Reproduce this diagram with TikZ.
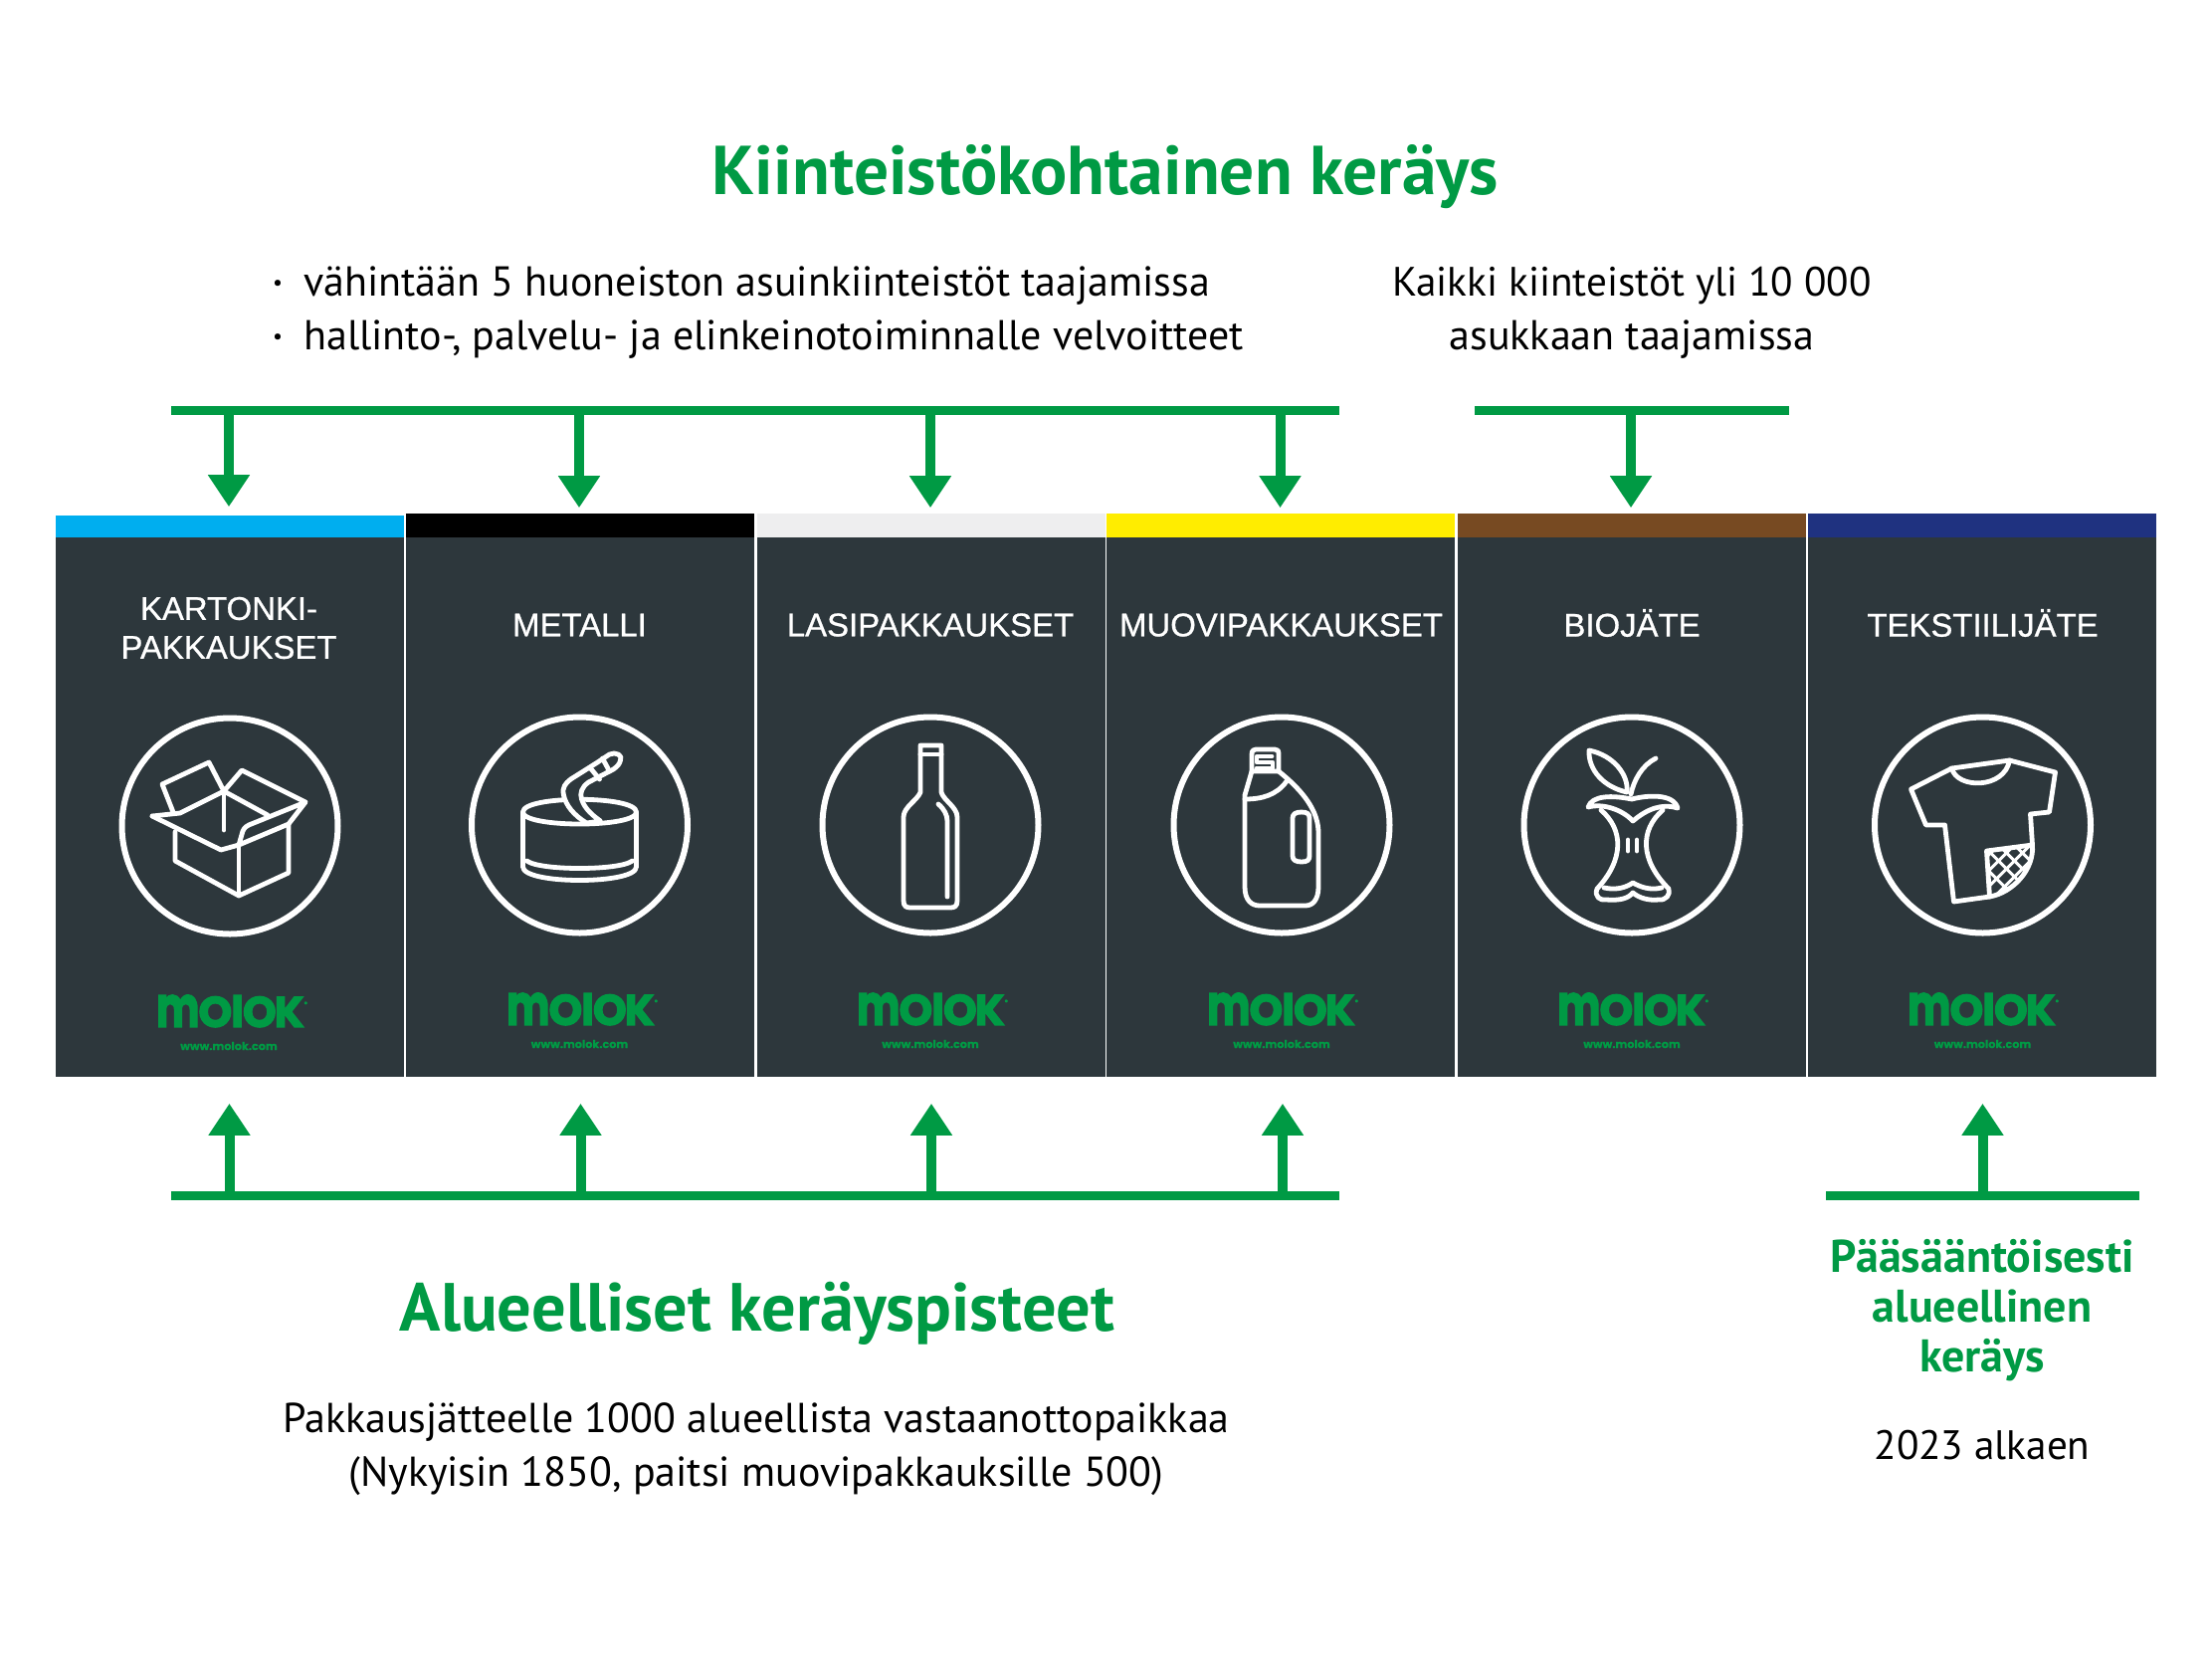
\documentclass[tikz,border=0pt]{standalone}
\usepackage{fontspec}
\setmainfont{PT Sans}
\newfontfamily\paneelifont[FakeBold=0.7]{Liberation Sans}
\newfontfamily\logofont[FakeBold=3]{Poppins}
\newfontfamily\osoitefont[FakeBold=0.6]{Poppins}
\usetikzlibrary{arrows.meta}
\definecolor{vihrea}{RGB}{0,154,68}
\definecolor{paneeli}{RGB}{45,55,60}
\definecolor{sininen}{RGB}{0,174,239}
\definecolor{vaalea}{RGB}{238,238,239}
\definecolor{keltainen}{RGB}{255,237,0}
\definecolor{ruskea}{RGB}{119,74,34}
\definecolor{tummansininen}{RGB}{31,50,128}
\newcommand{\molokmerkki}{\scalebox{0.95}[1.32]{m}\kern-0.5pt O\kern-0.5pt l\kern-0.5pt O\kern-1pt K\raisebox{10.5pt}{\fontsize{3}{3}\selectfont ®}}
\tikzset{
  paneelibox/.style={fill=paneeli,minimum width=175pt,minimum height=271pt,inner sep=0pt,anchor=north},
  raita/.style={minimum width=175pt,minimum height=12pt,inner sep=0pt,anchor=south},
  otsake/.style={text=white,font=\paneelifont\fontsize{16.45}{19.5}\selectfont,align=center},
  kehys/.style={draw=white,line width=3pt,circle,minimum size=108.5pt,inner sep=0pt},
  ikoni/.style={draw=white,line width=2.4pt,line join=round,line cap=round},
  logo/.style={text=vihrea,font=\logofont\bfseries\fontsize{21.5}{21.5}\selectfont,inner sep=0pt},
  osoite/.style={text=vihrea,font=\osoitefont\bfseries\fontsize{5.6}{5.6}\selectfont,inner sep=0pt},
  palkki/.style={draw=vihrea,line width=4.5pt},
  nuoli/.style={draw=vihrea,line width=5pt,-{Triangle[width=20pt,length=16pt]}},
  otsikko/.style={text=vihrea,font=\bfseries\fontsize{34.7}{40}\selectfont,inner sep=0pt},
  leipa/.style={font=\fontsize{21}{27}\selectfont,inner sep=0pt},
}
\begin{document}
\begin{tikzpicture}[x=0.5pt,y=-0.5pt]
\useasboundingbox (0,0) rectangle (2223,1667);
\fill[white] (0,0) rectangle (2223,1667);
% otsikot
\node[otsikko] (ylaotsikko) at (1111,178) {Kiinteistökohtainen keräys};
\node[leipa,anchor=west] (ehto1) at (305,287) {vähintään 5 huoneiston asuinkiinteistöt taajamissa};
\node[leipa,anchor=west] (ehto2) at (305,341) {hallinto-, palvelu- ja elinkeinotoiminnalle velvoitteet};
\node[leipa,font=\fontsize{11}{11}\selectfont] (piste1) at (279,287) {•};
\node[leipa,font=\fontsize{11}{11}\selectfont] (piste2) at (279,341) {•};
\node[leipa,align=center] (kaikki) at (1640,314) {\fontsize{20.6}{27}\selectfont Kaikki kiinteistöt yli 10 000\\\fontsize{21}{27}\selectfont asukkaan taajamissa};
% paneelit
\node[paneelibox] (kartonki) at (230.75,540) {};
\node[paneelibox] (metalli) at (583,540) {};
\node[paneelibox] (lasi) at (935.5,540) {};
\node[paneelibox] (muovi) at (1287.25,540) {};
\node[paneelibox] (bio) at (1640,540) {};
\node[paneelibox] (tekstiili) at (1992.25,540) {};
\node[raita,fill=sininen,minimum height=11pt] (raita1) at (kartonki.north) {};
\node[raita,fill=black] (raita2) at (metalli.north) {};
\node[raita,fill=vaalea] (raita3) at (lasi.north) {};
\node[raita,fill=keltainen] (raita4) at (muovi.north) {};
\node[raita,fill=ruskea] (raita5) at (bio.north) {};
\node[raita,fill=tummansininen] (raita6) at (tekstiili.north) {};
\node[otsake] (nimi1) at (230,631) {KARTONKI-\\PAKKAUKSET};
\node[otsake] (nimi2) at (582.5,628) {METALLI};
\node[otsake] (nimi3) at (935,628) {LASIPAKKAUKSET};
\node[otsake] (nimi4) at (1287.5,628) {MUOVIPAKKAUKSET};
\node[otsake] (nimi5) at (1640,626) {BIOJÄTE};
\node[otsake] (nimi6) at (1992.5,626) {TEKSTIILIJÄTE};
\node[kehys] (kehys1) at (231,830) {};
\node[kehys] (kehys2) at (582.5,829) {};
\node[kehys] (kehys3) at (935,829) {};
\node[kehys] (kehys4) at (1288,829) {};
\node[kehys] (kehys5) at (1640,829) {};
\node[kehys] (kehys6) at (1992.5,829) {};
\node[logo] (logo1) at (233,1016) {\molokmerkki};
\node[logo] (logo2) at (585,1014) {\molokmerkki};
\node[logo] (logo3) at (937,1014) {\molokmerkki};
\node[logo] (logo4) at (1289,1014) {\molokmerkki};
\node[logo] (logo5) at (1641,1014) {\molokmerkki};
\node[logo] (logo6) at (1993,1014) {\molokmerkki};
\node[osoite] (www1) at (230,1051) {www.molok.com};
\node[osoite] (www2) at (582.5,1049) {www.molok.com};
\node[osoite] (www3) at (935,1049) {www.molok.com};
\node[osoite] (www4) at (1288,1049) {www.molok.com};
\node[osoite] (www5) at (1640,1049) {www.molok.com};
\node[osoite] (www6) at (1992.5,1049) {www.molok.com};
% laatikko
\begin{scope}[shift={(230,831)}]
\draw[ikoni] (-54,5) -- (-54,34) -- (10,69) -- (60,46) -- (60,-3);
\draw[ikoni] (10,69) -- (10,18);
\draw[ikoni] (-77,-11) -- (-8,23) -- (10,18) -- (14,4) .. controls (16,0) and (18,-1) .. (20,-2) -- (77,-25) -- (60,-3) -- (10,18);
\draw[ikoni] (-77,-11) -- (-49,-14) -- (-5,-36) -- (39,-12);
\draw[ikoni] (-5,-36) -- (-5,3);
\draw[ikoni] (-56,-15) -- (-67,-43) -- (-20,-65) -- (-5,-36) -- (13,-57) -- (77,-25);
\end{scope}
% tolkki
\begin{scope}[shift={(582.5,829)}]
\draw[ikoni] (-57,-13) -- (-57,42) .. controls (-57,60) and (57,60) .. (57,42) -- (57,-13);
\draw[ikoni] (-53,36) .. controls (-40,46) and (40,46) .. (53,36);
\draw[ikoni] (-57,-13) .. controls (-57,-30) and (57,-30) .. (57,-13) .. controls (57,3) and (-57,3) .. (-57,-13);
\draw[ikoni,fill=paneeli] (7,-2) .. controls (-6,-10) and (-14,-20) .. (-16,-30) .. controls (-18,-38) and (-14,-42) .. (-9,-46) -- (18,-63) -- (30,-71) .. controls (36,-74) and (44,-70) .. (41,-65) .. controls (40,-61) and (38,-59) .. (34,-56) -- (9,-43) .. controls (2,-38) and (0,-32) .. (2,-26) .. controls (5,-16) and (14,-9) .. (21,-4) -- cycle;
\draw[ikoni] (11,-57) -- (20,-46);
\draw[ikoni] (23,-67) -- (30,-54);
\end{scope}
% pullo
\begin{scope}[shift={(935,829)}]
\draw[ikoni] (-10,-80) -- (11,-80) -- (11,-33) .. controls (13,-25) and (27,-18) .. (27,-8) -- (27,76) .. controls (27,82) and (24,83) .. (20,83) -- (-20,83) .. controls (-24,83) and (-27,82) .. (-27,76) -- (-27,-8) .. controls (-27,-18) and (-13,-25) .. (-10,-33) -- cycle;
\draw[ikoni] (-10,-71) -- (11,-71);
\draw[ikoni] (8,-21) .. controls (14,-16) and (17,-10) .. (17,-4) -- (17,72);
\end{scope}
% kanisteri
\begin{scope}[shift={(1288,829)}]
\draw[ikoni] (-30,-71) .. controls (-30,-75) and (-28,-76) .. (-26,-76) -- (-7,-76) .. controls (-4,-76) and (-3,-75) .. (-3,-71) -- (-3,-54) -- (-30,-54) -- cycle;
\draw[ikoni] (-10,-69) -- (-25,-69) -- (-25,-63) -- (-9,-63) -- (-9,-57) -- (-25,-57);
\draw[ikoni] (-30,-54) -- (-37,-30) -- (-37,62) .. controls (-37,76) and (-30,81) .. (-22,81) -- (24,81) .. controls (32,81) and (37,74) .. (37,62) -- (37,8) .. controls (37,-14) and (22,-34) .. (-3,-54);
\draw[ikoni] (-37,-26) .. controls (-20,-26) and (-5,-30) .. (5,-44);
\draw[ikoni] (11,-7) .. controls (11,-11) and (14,-13) .. (20,-13) .. controls (26,-13) and (28,-11) .. (28,-7) -- (28,31) .. controls (28,35) and (26,37) .. (20,37) .. controls (14,37) and (11,35) .. (11,31) -- cycle;
\end{scope}
% omena
\begin{scope}[shift={(1640,829)}]
\draw[ikoni] (-43,-75) .. controls (-44,-55) and (-28,-38) .. (-5,-33) .. controls (-3,-50) and (-18,-70) .. (-43,-75) -- cycle;
\draw[ikoni] (24,-67) .. controls (10,-60) and (2,-45) .. (-1,-31);
\draw[ikoni] (-44,-18) .. controls (-40,-30) and (-20,-30) .. (0,-26) .. controls (15,-30) and (42,-32) .. (46,-17) .. controls (30,-22) and (15,-16) .. (1,-4) .. controls (-10,-16) and (-30,-22) .. (-44,-18) -- cycle;
\draw[ikoni] (-31,-15) .. controls (-8,5) and (-8,35) .. (-35,64) .. controls (-38,72) and (-32,76) .. (-26,75) .. controls (-12,76) and (-4,74) .. (1,68) .. controls (8,74) and (18,76) .. (27,75) .. controls (34,76) and (39,70) .. (37,64) .. controls (8,35) and (8,5) .. (31,-15);
\draw[ikoni] (-28,63) .. controls (-14,66) and (-5,62) .. (1,58) .. controls (8,62) and (18,66) .. (30,63);
\draw[ikoni] (-4,15) -- (-4,26);
\draw[ikoni] (5,15) -- (5,26);
\end{scope}
% paita
\begin{scope}[shift={(1992.5,829)}]
\draw[ikoni] (-31,-57) -- (-72,-36) -- (-57,0) -- (-38,0) -- (-29,77) -- (7,72) .. controls (30,68) and (52,45) .. (50,20) -- (48,-11) -- (67,-13) -- (73,-53) -- (27,-65) -- cycle;
\draw[ikoni] (-31,-57) .. controls (-26,-36) and (22,-36) .. (27,-65);
\begin{scope}
\clip (4,26) -- (50,18) .. controls (54,45) and (30,68) .. (7,72) -- cycle;
\draw[ikoni,line width=1.5pt] (-10,30) -- (40,80) (0,20) -- (50,70) (12,16) -- (62,66) (24,12) -- (74,62) (36,8) -- (86,58) (-22,42) -- (28,92);
\draw[ikoni,line width=1.5pt] (-10,62) -- (40,12) (-10,78) -- (52,16) (-2,86) -- (60,24) (10,90) -- (72,28) (-10,46) -- (30,6);
\end{scope}
\draw[ikoni] (7,72) -- (4,26) -- (50,20);
\end{scope}
% ylanuolet
\coordinate (ylaalku) at (172,412.5);
\coordinate (ylaloppu) at (1346,412.5);
\coordinate (bioalku) at (1482,412.5);
\coordinate (bioloppu) at (1798,412.5);
\draw[palkki] (ylaalku) -- (ylaloppu);
\draw[palkki] (bioalku) -- (bioloppu);
\coordinate (yla1) at (230,412);
\coordinate (yla2) at (582,412);
\coordinate (yla3) at (935,412);
\coordinate (yla4) at (1286.5,412);
\coordinate (yla5) at (1639,412);
\draw[nuoli,shorten >=4pt] (yla1) -- (raita1.north -| yla1);
\draw[nuoli,shorten >=2.5pt] (yla2) -- (raita2.north -| yla2);
\draw[nuoli,shorten >=2.5pt] (yla3) -- (raita3.north -| yla3);
\draw[nuoli,shorten >=2.5pt] (yla4) -- (raita4.north -| yla4);
\draw[nuoli,shorten >=2.5pt] (yla5) -- (raita5.north -| yla5);
% alanuolet
\coordinate (ala1) at (230.5,1201);
\coordinate (ala2) at (583.5,1201);
\coordinate (ala3) at (936,1201);
\coordinate (ala4) at (1289,1201);
\coordinate (ala5) at (1992.5,1201);
\coordinate (alaalku) at (172,1201);
\coordinate (alaloppu) at (1346,1201);
\coordinate (tekalku) at (1835,1201);
\coordinate (tekloppu) at (2150,1201);
\draw[palkki] (alaalku) -- (alaloppu);
\draw[palkki] (tekalku) -- (tekloppu);
\draw[nuoli,shorten >=13pt] (ala1) -- (kartonki.south -| ala1);
\draw[nuoli,shorten >=13pt] (ala2) -- (metalli.south -| ala2);
\draw[nuoli,shorten >=13pt] (ala3) -- (lasi.south -| ala3);
\draw[nuoli,shorten >=13pt] (ala4) -- (muovi.south -| ala4);
\draw[nuoli,shorten >=13pt] (ala5) -- (tekstiili.south -| ala5);
% alaosa
\node[otsikko,font=\bfseries\fontsize{34.2}{40}\selectfont] (alaotsikko) at (761,1320) {Alueelliset keräyspisteet};
\node[leipa,align=center] (vastaanotto) at (760,1456) {Pakkausjätteelle 1000 alueellista vastaanottopaikkaa\\(Nykyisin 1850, paitsi muovipakkauksille 500)};
\node[otsikko,align=center,font=\bfseries\fontsize{23}{25}\selectfont] (paasaanto) at (1992,1317) {Pääsääntöisesti\\alueellinen\\keräys};
\node[leipa,font=\fontsize{20.6}{27}\selectfont] (alkaen) at (1992,1452) {2023 alkaen};
\end{tikzpicture}
\end{document}
